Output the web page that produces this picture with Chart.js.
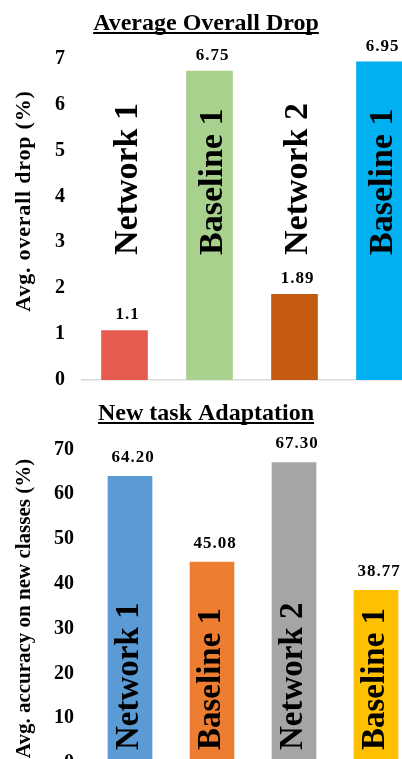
<!DOCTYPE html>
<html>
<head>
<meta charset="utf-8">
<script src="https://cdn.jsdelivr.net/npm/chart.js@4.4.1/dist/chart.umd.min.js"></script>
<style>
  html, body { margin: 0; padding: 0; background: #fff; }
  #page { position: relative; width: 402px; height: 759px; overflow: hidden; background: #fff; }
  canvas { position: absolute; left: 0; }
  #dropChart { top: 0; }
  #adaptChart { top: 392px; }
</style>
</head>
<body>
<div id="page">
  <canvas id="dropChart" width="422" height="392"></canvas>
  <canvas id="adaptChart" width="417" height="383"></canvas>
</div>
<script>
// Methods compared in both panels
const categories = ['Network 1', 'Baseline 1', 'Network 2', 'Baseline 1'];

// Panel 1: average overall drop (%)
const dropValues = [1.1, 6.75, 1.89, 6.95];
const dropColors = ['#E55B4F', '#A9D18E', '#C55A11', '#00B0F0'];
const dropTickMax = 7;
const dropTickStep = 1;

// Panel 2: average accuracy on new classes (%)
const adaptValues = [64.20, 45.08, 67.30, 38.77];
const adaptColors = ['#5B9BD5', '#ED7D31', '#A5A5A5', '#FFC000'];
const adaptTickMax = 70;
const adaptTickStep = 10;

const SERIF = '"Liberation Serif", "Times New Roman", serif';

// Draws the panel title, the rotated y-axis title, value labels and rotated method names
const panelText = {
  id: 'panelText',
  afterDatasetsDraw(chart, args, o) {
    const ctx = chart.ctx;
    const meta = chart.getDatasetMeta(0);
    const data = chart.data.datasets[0].data;
    const area = chart.chartArea;
    ctx.save();
    ctx.fillStyle = '#000';

    meta.data.forEach((bar, i) => {
      const v = data[i];
      const txt = o.decimals >= 0 ? v.toFixed(o.decimals) : String(v);
      ctx.font = 'bold ' + o.valueSize + 'px ' + SERIF;
      ctx.letterSpacing = o.valueSpacing + 'px';
      ctx.textAlign = 'center';
      ctx.textBaseline = 'alphabetic';
      ctx.fillText(txt, bar.x + o.valueShift, bar.y - o.valueGap);

      ctx.save();
      ctx.letterSpacing = '0px';
      ctx.translate(bar.x + o.nameShift, area.bottom - o.nameLift);
      ctx.rotate(-Math.PI / 2);
      ctx.font = 'bold ' + o.nameSize + 'px ' + SERIF;
      ctx.textAlign = 'left';
      ctx.fillText(chart.data.labels[i], 0, 0);
      ctx.restore();
    });

    // title with underline
    ctx.letterSpacing = '0px';
    ctx.font = 'bold 24px ' + SERIF;
    ctx.textAlign = 'center';
    ctx.textBaseline = 'alphabetic';
    ctx.fillText(o.title, o.titleX, o.titleY);
    const w = ctx.measureText(o.title).width;
    ctx.fillRect(o.titleX - w / 2, o.titleY + 2, w, 2);

    // y-axis title
    ctx.save();
    ctx.letterSpacing = o.axisSpacing + 'px';
    ctx.translate(o.axisX, o.axisY);
    ctx.rotate(-Math.PI / 2);
    ctx.font = 'bold ' + o.axisSize + 'px ' + SERIF;
    ctx.textAlign = 'center';
    ctx.fillText(o.axisTitle, 0, 0);
    ctx.restore();

    ctx.restore();
  }
};

function makeChart(id, values, colors, tickMax, tickStep, axisWidth, barWidth, pad, text) {
  return new Chart(document.getElementById(id), {
    type: 'bar',
    data: {
      labels: categories,
      datasets: [{
        data: values,
        backgroundColor: colors,
        borderColor: 'rgba(255,255,255,0.55)',
        borderWidth: 1,
        barThickness: barWidth
      }]
    },
    options: {
      responsive: false,
      animation: false,
      devicePixelRatio: 1,
      layout: { padding: pad, autoPadding: false },
      plugins: {
        legend: { display: false },
        tooltip: { enabled: false },
        title: { display: false },
        panelText: text
      },
      scales: {
        x: {
          grid: { display: false, drawTicks: false },
          border: { display: true, color: '#D9D9D9', width: 1.5 },
          ticks: { display: false },
          afterFit(s) { s.height = 0; }
        },
        y: {
          min: 0,
          max: tickMax,
          grid: { display: false, drawTicks: false },
          border: { display: false },
          ticks: {
            stepSize: tickStep,
            padding: text.tickPad,
            color: '#000',
            font: { family: SERIF, weight: 'bold', size: 20 }
          },
          afterFit(s) {
            // fixed axis width; plot area is set by the layout padding alone
            s.width = axisWidth;
            s.paddingTop = 0;
            s.paddingBottom = 0;
          }
        }
      }
    },
    plugins: [panelText]
  });
}

makeChart('dropChart', dropValues, dropColors, dropTickMax, dropTickStep, 82, 48,
  { top: 58.6, bottom: 12, left: 0, right: 0 },
  {
    title: 'Average Overall Drop', titleX: 206, titleY: 30,
    axisTitle: 'Avg. overall drop (%)', axisX: 30, axisY: 201, axisSize: 22, axisSpacing: 0.8,
    decimals: -1, valueSize: 17, valueSpacing: 1, valueGap: 10, valueShift: 3,
    nameSize: 34, nameShift: 12, nameLift: 125, tickPad: 17
  });

makeChart('adaptChart', adaptValues, adaptColors, adaptTickMax, adaptTickStep, 89, 46,
  { top: 57.4, bottom: 12, left: 0, right: 0 },
  {
    title: 'New task Adaptation', titleX: 206, titleY: 28,
    axisTitle: 'Avg. accuracy on new classes (%)', axisX: 30, axisY: 216.5, axisSize: 21, axisSpacing: 0,
    decimals: 2, valueSize: 17, valueSpacing: 1, valueGap: 13, valueShift: 3,
    nameSize: 33, nameShift: 8, nameLift: 13, tickPad: 15
  });
</script>
</body>
</html>
